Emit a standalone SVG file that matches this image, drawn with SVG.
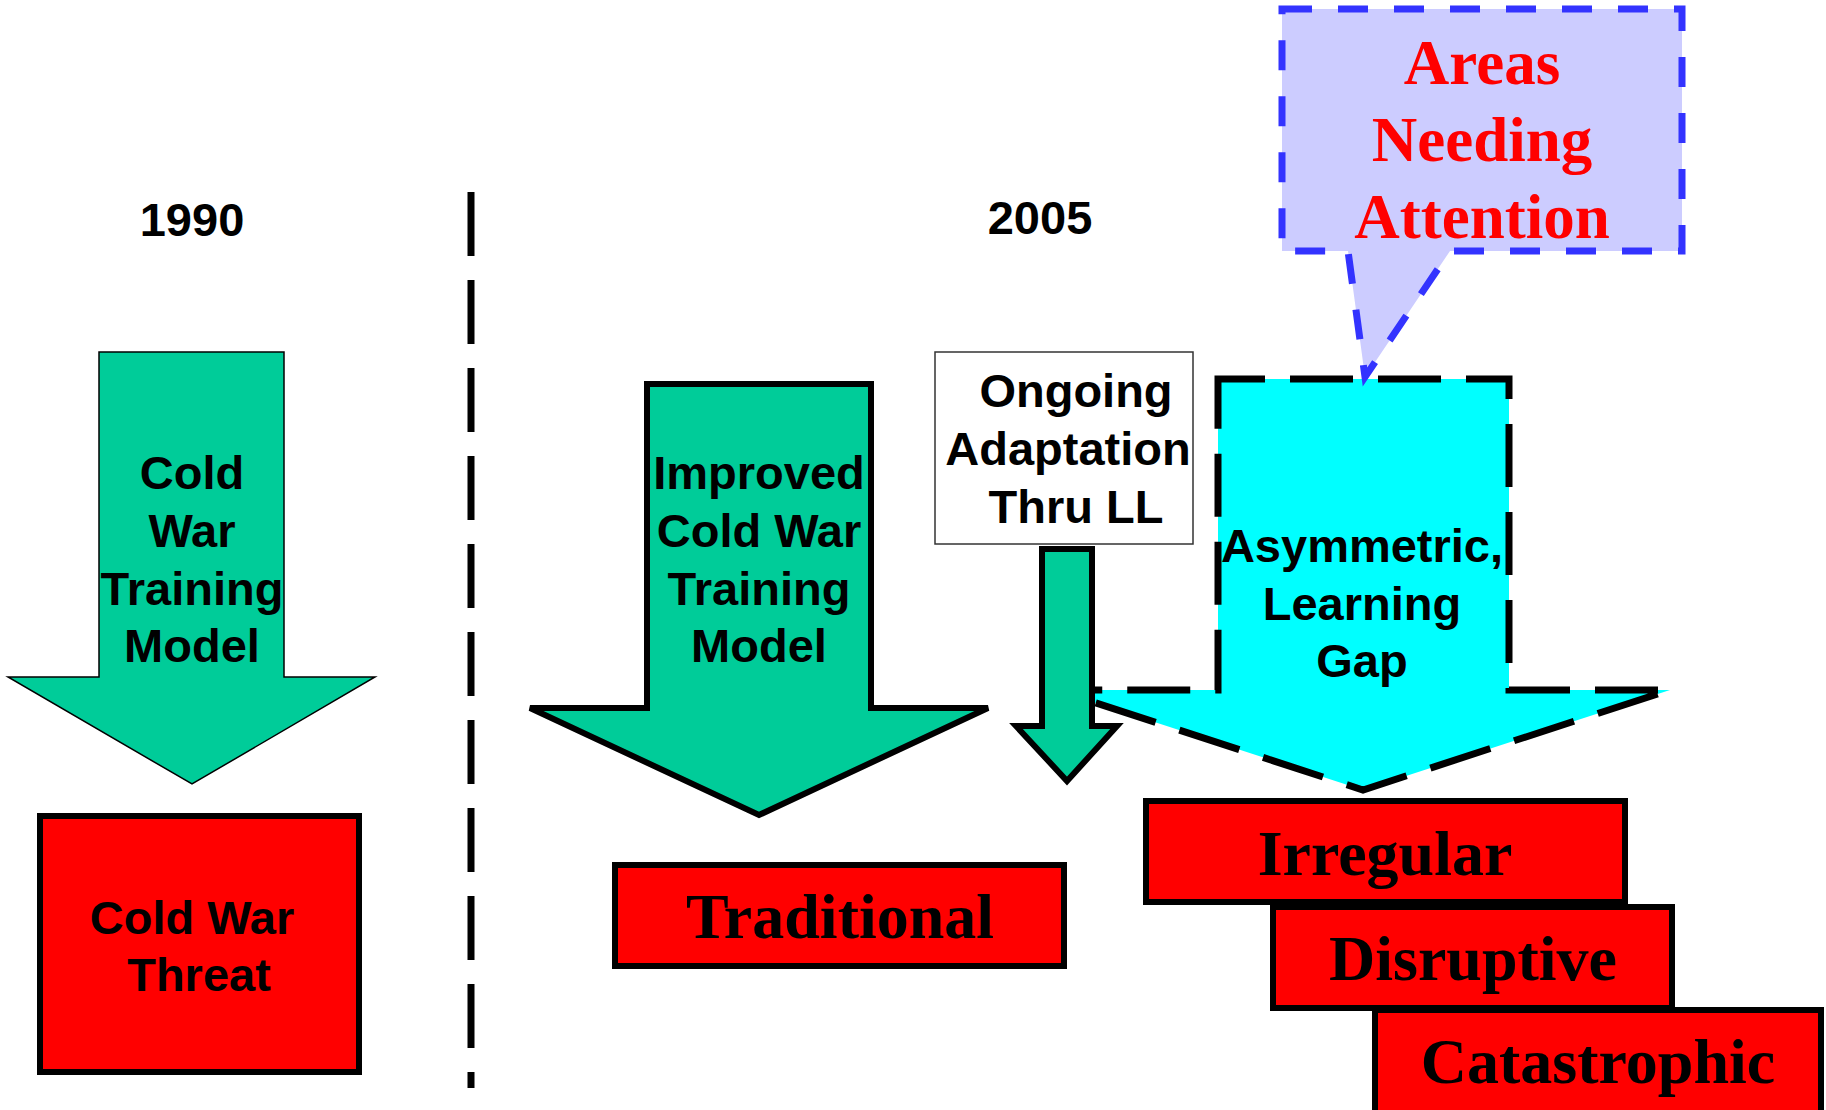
<svg xmlns="http://www.w3.org/2000/svg" width="1826" height="1110" viewBox="0 0 1826 1110">
<style>
.sans{font-family:"Liberation Sans",Arial,sans-serif;font-weight:bold;font-size:47px;fill:#000;text-anchor:middle}
.serif{font-family:"Liberation Serif","Times New Roman",serif;font-weight:bold;font-size:64px;fill:#000;text-anchor:middle}
.callt{font-family:"Liberation Serif","Times New Roman",serif;font-weight:bold;font-size:63px;fill:#FF0000;text-anchor:middle}
.red{fill:#FF0000;stroke:#000;stroke-width:6}
.green{fill:#00CC99;stroke:#000}
</style>
<rect width="1826" height="1110" fill="#fff"/>
<g id="connectors">
<line x1="471" y1="192" x2="471" y2="1088" stroke="#000" stroke-width="7" stroke-dasharray="64 24"/>
</g>
<g id="label-1990"><text class="sans" x="192" y="236">1990</text></g>
<g id="label-2005"><text class="sans" x="1040" y="234">2005</text></g>
<g id="arrow-coldwar">
<polygon class="green" stroke-width="1.5" points="99,352 284,352 284,677 375,677 192,784 8,677 99,677"/>
<text class="sans" x="192" y="489">Cold</text>
<text class="sans" x="192" y="547">War</text>
<text class="sans" x="192" y="605">Training</text>
<text class="sans" x="192" y="662">Model</text>
</g>
<g id="arrow-improved">
<polygon class="green" stroke-width="6" points="647,384 871,384 871,708 988,708 759,815 530,708 647,708"/>
<text class="sans" x="759" y="489">Improved</text>
<text class="sans" x="759" y="547">Cold War</text>
<text class="sans" x="759" y="605">Training</text>
<text class="sans" x="759" y="662">Model</text>
</g>
<g id="arrow-gap">
<path d="M1218,379 H1509 V690 H1670 L1363,790 L1056,690 H1218 Z" fill="#00FFFF" stroke="#000" stroke-width="7" stroke-dasharray="63 25" stroke-dashoffset="16"/>
<text class="sans" x="1362" y="562">Asymmetric,</text>
<text class="sans" x="1362" y="620">Learning</text>
<text class="sans" x="1362" y="677">Gap</text>
</g>
<g id="callout">
<path d="M1282,9 H1682 V251 H1450 L1365,377 L1348,251 H1282 Z" fill="#CCCCFF" stroke="#3333FF" stroke-width="7" stroke-dasharray="30 26"/>
<text class="callt" x="1482" y="84">Areas</text>
<text class="callt" x="1482" y="161">Needing</text>
<text class="callt" x="1482" y="238">Attention</text>
</g>
<g id="arrow-adaptation">
<polygon class="green" stroke-width="6" points="1042,549 1092,549 1092,726 1117,726 1067,781 1016,726 1042,726"/>
</g>
<g id="box-ongoing">
<rect x="935" y="352" width="258" height="192" fill="#fff" stroke="#333" stroke-width="1.5"/>
<text class="sans" x="1076" y="407">Ongoing</text>
<text class="sans" x="1068" y="465">Adaptation</text>
<text class="sans" x="1076" y="523">Thru LL</text>
</g>
<g id="box-coldwar-threat">
<rect class="red" x="40" y="816" width="319" height="256"/>
<text class="sans" x="192" y="934">Cold War</text>
<text class="sans" x="199" y="991">Threat</text>
</g>
<g id="box-traditional">
<rect class="red" x="615" y="865" width="449" height="101"/>
<text class="serif" x="840" y="938">Traditional</text>
</g>
<g id="box-irregular">
<rect class="red" x="1146" y="801" width="479" height="101"/>
<text class="serif" x="1385" y="875">Irregular</text>
</g>
<g id="box-disruptive">
<rect class="red" x="1273" y="907" width="399" height="101"/>
<text class="serif" x="1473" y="980">Disruptive</text>
</g>
<g id="box-catastrophic">
<rect class="red" x="1375" y="1010" width="446" height="104"/>
<text class="serif" x="1598" y="1083">Catastrophic</text>
</g>
</svg>
